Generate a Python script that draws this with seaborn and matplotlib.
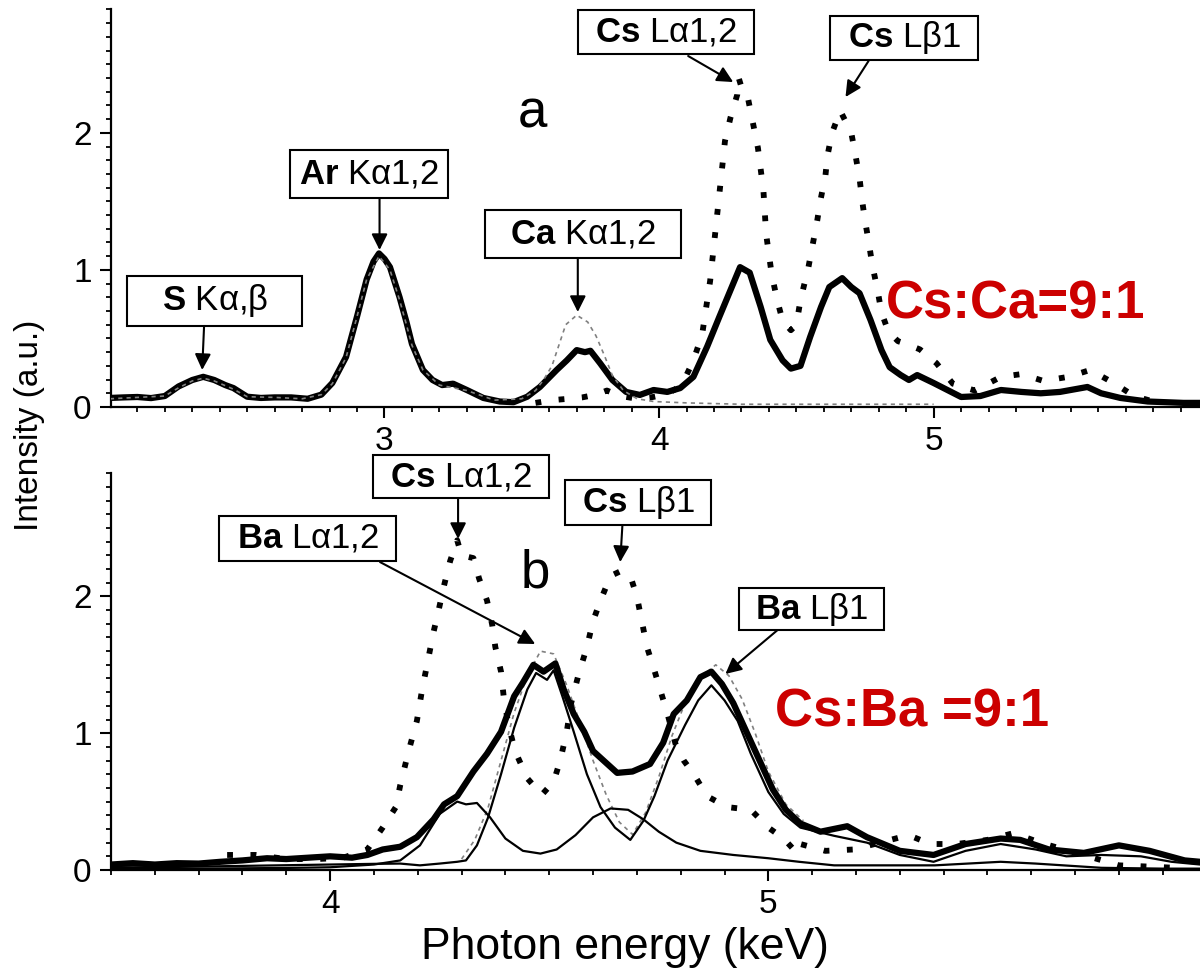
import matplotlib
matplotlib.use("Agg")
import matplotlib.pyplot as plt
import seaborn as sns
from matplotlib.ticker import MultipleLocator
from matplotlib.patches import Rectangle

# ---------------- data ----------------
# panel a : Cs:Ca = 9:1 mixture (thick solid)
top_x_mix = [2.00, 2.05, 2.10, 2.15, 2.20, 2.25, 2.30, 2.34, 2.38, 2.42, 2.45, 2.50, 2.55, 2.60,
             2.66, 2.72, 2.77, 2.81, 2.86, 2.90, 2.935, 2.96, 2.98, 3.00, 3.02, 3.055, 3.08, 3.10,
             3.14, 3.175, 3.21, 3.25, 3.30, 3.36, 3.42, 3.47, 3.52, 3.566, 3.627, 3.664, 3.70,
             3.73, 3.75, 3.785, 3.83, 3.88, 3.93, 3.98, 4.03, 4.077, 4.125, 4.175, 4.22, 4.27,
             4.295, 4.33, 4.37, 4.405, 4.45, 4.48, 4.515, 4.55, 4.59, 4.62, 4.667, 4.70, 4.73,
             4.77, 4.81, 4.84, 4.88, 4.91, 4.94, 5.00, 5.05, 5.10, 5.17, 5.245, 5.32, 5.39, 5.46,
             5.56, 5.61, 5.68, 5.78, 5.91, 5.97]
top_y_mix = [0.066, 0.07, 0.073, 0.065, 0.08, 0.15, 0.197, 0.22, 0.197, 0.16, 0.138, 0.075, 0.066, 0.07,
             0.07, 0.06, 0.09, 0.175, 0.365, 0.66, 0.93, 1.06, 1.12, 1.08, 1.02, 0.80, 0.62, 0.46,
             0.27, 0.197, 0.16, 0.17, 0.124, 0.066, 0.04, 0.035, 0.075, 0.146, 0.27, 0.34, 0.415,
             0.40, 0.41, 0.32, 0.197, 0.11, 0.088, 0.124, 0.11, 0.138, 0.22, 0.44, 0.66, 0.90,
             1.02, 0.98, 0.73, 0.49, 0.34, 0.28, 0.30, 0.51, 0.73, 0.875, 0.94, 0.875, 0.83,
             0.635, 0.415, 0.29, 0.233, 0.197, 0.233, 0.175, 0.124, 0.073, 0.08, 0.124, 0.11, 0.10, 0.11,
             0.146, 0.10, 0.066, 0.04, 0.03, 0.03]

# panel a : pure Cs (dotted)
top_x_cs = [3.55, 3.61, 3.67, 3.72, 3.77, 3.81, 3.86, 3.92, 3.97, 4.02, 4.06, 4.09, 4.125, 4.157,
            4.186, 4.204, 4.222, 4.24, 4.26, 4.285, 4.29, 4.305, 4.325, 4.343, 4.36, 4.38, 4.39,
            4.41, 4.43, 4.45, 4.48, 4.50, 4.515, 4.544, 4.56, 4.576, 4.588, 4.606, 4.613, 4.63,
            4.66, 4.70, 4.715, 4.73, 4.74, 4.75, 4.763, 4.777, 4.795, 4.81, 4.835, 4.87, 4.90,
            4.95, 5.01, 5.07, 5.15, 5.245, 5.32, 5.40, 5.49, 5.57, 5.66, 5.73, 5.80]
top_y_cs = [0.03, 0.05, 0.06, 0.07, 0.09, 0.12, 0.08, 0.06, 0.07, 0.09, 0.13, 0.19, 0.34, 0.53,
            0.92, 1.26, 1.60, 1.94, 2.11, 2.28, 2.40, 2.30, 2.24, 2.06, 1.89, 1.58, 1.26,
            0.97, 0.78, 0.63, 0.56, 0.60, 0.78, 1.02, 1.19, 1.36, 1.51, 1.69, 1.83, 2.00,
            2.16, 2.00, 1.84, 1.67, 1.50, 1.36, 1.21, 1.03, 0.86, 0.69, 0.55, 0.48, 0.46,
            0.42, 0.32, 0.17, 0.12, 0.22, 0.24, 0.19, 0.22, 0.27, 0.17, 0.08, 0.04]

# panel a : reference with Ca (thin grey dashes)
top_x_ca = [2.00, 2.10, 2.20, 2.25, 2.30, 2.34, 2.38, 2.45, 2.50, 2.60, 2.70, 2.77, 2.81, 2.86,
            2.90, 2.935, 2.98, 3.02, 3.055, 3.08, 3.10, 3.14, 3.20, 3.30, 3.40, 3.50, 3.55, 3.58,
            3.61, 3.64, 3.66, 3.70, 3.74, 3.77, 3.80, 3.83, 3.87, 3.92, 3.98, 4.10, 4.30, 4.60, 5.00]
top_y_ca = [0.06, 0.07, 0.08, 0.14, 0.19, 0.21, 0.19, 0.13, 0.075, 0.07, 0.06, 0.09, 0.17, 0.36,
            0.66, 0.93, 1.10, 1.00, 0.78, 0.60, 0.45, 0.27, 0.16, 0.12, 0.05, 0.06, 0.12, 0.20,
            0.30, 0.48, 0.60, 0.67, 0.62, 0.52, 0.38, 0.23, 0.12, 0.06, 0.04, 0.03, 0.02, 0.02, 0.02]

# panel b : Cs:Ba = 9:1 mixture (thick solid)
bot_x_mix = [3.50, 3.55, 3.60, 3.65, 3.70, 3.75, 3.80, 3.856, 3.90, 3.95, 4.00, 4.05, 4.085, 4.12,
             4.16, 4.198, 4.236, 4.26, 4.29, 4.327, 4.358, 4.39, 4.42, 4.44, 4.464, 4.487, 4.514,
             4.533, 4.556, 4.58, 4.60, 4.624, 4.655, 4.69, 4.73, 4.76, 4.784, 4.814, 4.845, 4.87,
             4.894, 4.92, 4.95, 4.98, 5.01, 5.04, 5.073, 5.119, 5.18, 5.225, 5.30, 5.377, 5.45,
             5.53, 5.575, 5.64, 5.72, 5.80, 5.87, 5.95, 5.985]
bot_y_mix = [0.04, 0.05, 0.04, 0.05, 0.047, 0.06, 0.07, 0.086, 0.08, 0.09, 0.10, 0.09, 0.11, 0.15,
             0.17, 0.24, 0.37, 0.48, 0.54, 0.72, 0.85, 1.01, 1.27, 1.37, 1.50, 1.45, 1.51,
             1.32, 1.14, 1.01, 0.87, 0.80, 0.71, 0.72, 0.775, 0.93, 1.14, 1.24, 1.41, 1.45,
             1.36, 1.22, 1.01, 0.80, 0.59, 0.44, 0.34, 0.28, 0.32, 0.24, 0.14, 0.11, 0.19,
             0.23, 0.22, 0.15, 0.125, 0.18, 0.14, 0.07, 0.06]

# panel b : pure Cs (dotted)
bot_x_cs = [3.765, 3.83, 3.90, 3.97, 4.03, 4.085, 4.12, 4.15, 4.16, 4.18, 4.198, 4.21, 4.22, 4.236,
            4.247, 4.26, 4.274, 4.29, 4.30, 4.327, 4.34, 4.358, 4.37, 4.377, 4.39, 4.396, 4.407,
            4.422, 4.45, 4.483, 4.51, 4.525, 4.54, 4.55, 4.567, 4.586, 4.60, 4.617, 4.64, 4.66,
            4.685, 4.70, 4.71, 4.723, 4.738, 4.753, 4.77, 4.79, 4.807, 4.83, 4.86, 4.906, 4.96,
            5.00, 5.035, 5.065, 5.073, 5.13, 5.195, 5.32, 5.37, 5.43, 5.50, 5.56, 5.62, 5.745,
            5.80, 5.86, 5.93]
bot_y_cs = [0.11, 0.11, 0.08, 0.08, 0.09, 0.15, 0.31, 0.46, 0.62, 0.88, 1.09, 1.32, 1.48, 1.74,
            1.89, 2.08, 2.26, 2.41, 2.30, 2.28, 2.13, 1.97, 1.79, 1.63, 1.45, 1.27, 1.06,
            0.87, 0.67, 0.55, 0.645, 0.80, 1.01, 1.22, 1.43, 1.63, 1.82, 1.97, 2.15, 2.18,
            2.15, 2.00, 1.84, 1.63, 1.48, 1.32, 1.14, 0.90, 0.80, 0.70, 0.54, 0.46, 0.44,
            0.31, 0.23, 0.125, 0.19, 0.14, 0.15, 0.255, 0.19, 0.19, 0.22, 0.27, 0.20, 0.086,
            0.034, 0.026, 0.016]

# panel b : Ba component (thin solid)
bot_x_ba = [3.50, 3.60, 3.70, 3.80, 3.90, 4.00, 4.10, 4.16, 4.205, 4.25, 4.29, 4.31, 4.335, 4.36,
            4.39, 4.42, 4.45, 4.47, 4.495, 4.51, 4.53, 4.556, 4.586, 4.617, 4.65, 4.685, 4.715,
            4.74, 4.77, 4.81, 4.84, 4.87, 4.90, 4.93, 4.96, 5.00, 5.035, 5.073, 5.15, 5.225, 5.30,
            5.377, 5.45, 5.53, 5.61, 5.68, 5.76, 5.85, 5.92, 5.985]
bot_y_ba = [0.02, 0.02, 0.025, 0.03, 0.035, 0.04, 0.045, 0.047, 0.034, 0.047, 0.06, 0.07, 0.18, 0.38,
            0.70, 1.04, 1.32, 1.44, 1.39, 1.46, 1.27, 1.01, 0.70, 0.46, 0.31, 0.22, 0.36,
            0.54, 0.80, 1.06, 1.24, 1.35, 1.24, 1.09, 0.85, 0.57, 0.41, 0.31, 0.25, 0.20, 0.11,
            0.06, 0.14, 0.19, 0.15, 0.10, 0.11, 0.10, 0.06, 0.04]

# panel b : Cs component (thin solid)
bot_x_csc = [3.50, 3.70, 3.90, 4.00, 4.10, 4.16, 4.205, 4.25, 4.29, 4.31, 4.335, 4.365, 4.40,
             4.44, 4.48, 4.517, 4.56, 4.60, 4.64, 4.68, 4.715, 4.75, 4.79, 4.845, 4.92, 5.00,
             5.07, 5.15, 5.38, 5.53, 5.61, 5.76, 5.90, 5.985]
bot_y_csc = [0.01, 0.01, 0.015, 0.02, 0.04, 0.07, 0.18, 0.41, 0.50, 0.48, 0.49, 0.385, 0.23,
             0.14, 0.12, 0.15, 0.255, 0.385, 0.45, 0.44, 0.37, 0.28, 0.20, 0.14, 0.11, 0.086,
             0.06, 0.034, 0.034, 0.06, 0.047, 0.016, 0.01, 0.01]

# panel b : Ba reference (thin grey dashes)
bot_x_baref = [4.30, 4.33, 4.36, 4.39, 4.42, 4.45, 4.48, 4.51, 4.54, 4.57, 4.60, 4.63, 4.66,
               4.69, 4.72, 4.75, 4.78, 4.81, 4.85, 4.88, 4.91, 4.94, 4.97, 5.00, 5.04, 5.08]
bot_y_baref = [0.08, 0.22, 0.45, 0.80, 1.15, 1.42, 1.60, 1.58, 1.35, 1.08, 0.80, 0.55, 0.35,
               0.26, 0.42, 0.68, 0.98, 1.22, 1.42, 1.50, 1.42, 1.25, 1.00, 0.72, 0.48, 0.36]

# ---------------- style ----------------
sns.set_theme(style="ticks")
plt.rcParams["font.family"] = ["Liberation Sans", "DejaVu Sans"]
plt.rcParams["mathtext.fontset"] = "custom"
plt.rcParams["mathtext.rm"] = "Liberation Sans"
plt.rcParams["mathtext.bf"] = "Liberation Sans:bold"
plt.rcParams["mathtext.it"] = "Liberation Sans:italic"
plt.rcParams["text.color"] = "black"
plt.rcParams["axes.labelcolor"] = "black"
plt.rcParams["xtick.color"] = "black"
plt.rcParams["ytick.color"] = "black"
plt.rcParams["axes.edgecolor"] = "black"

RED = "#CC0000"
DOT = (0, (1, 3))
GREYDASH = (0, (2.5, 2.5))

fig = plt.figure(figsize=(12, 9.76), dpi=100)
W, H = 1200.0, 976.0
ax1 = fig.add_axes([111 / W, 1 - 407 / H, 1 - 111 / W, (407 - 9.4) / H])
ax2 = fig.add_axes([111 / W, 1 - 870 / H, 1 - 111 / W, (870 - 473.3) / H])

# panel a curves
sns.lineplot(x=top_x_ca, y=top_y_ca, ax=ax1, color="#808080", lw=1.2, linestyle=GREYDASH,
             sort=False, estimator=None, zorder=3)
sns.lineplot(x=top_x_mix, y=top_y_mix, ax=ax1, color="black", lw=4.5, sort=False,
             estimator=None, solid_joinstyle="round", solid_capstyle="round", zorder=2)
sns.lineplot(x=top_x_cs, y=top_y_cs, ax=ax1, color="black", lw=4.2, linestyle=DOT,
             sort=False, estimator=None, zorder=2)

# panel b curves
sns.lineplot(x=bot_x_baref, y=bot_y_baref, ax=ax2, color="#808080", lw=1.2, linestyle=GREYDASH,
             sort=False, estimator=None, zorder=2)
sns.lineplot(x=bot_x_csc, y=bot_y_csc, ax=ax2, color="black", lw=1.6, sort=False,
             estimator=None, zorder=2)
sns.lineplot(x=bot_x_ba, y=bot_y_ba, ax=ax2, color="black", lw=1.6, sort=False,
             estimator=None, zorder=2)
sns.lineplot(x=bot_x_mix, y=bot_y_mix, ax=ax2, color="black", lw=4.5, sort=False,
             estimator=None, solid_joinstyle="round", solid_capstyle="round", zorder=3)
sns.lineplot(x=bot_x_cs, y=bot_y_cs, ax=ax2, color="black", lw=4.2, linestyle=DOT,
             sort=False, estimator=None, zorder=3)

ax1.set_xlim(2.004, 5.97)
ax2.set_xlim(3.5, 5.985)
for ax in (ax1, ax2):
    ax.set_ylim(0, 2.9)
    ax.set_xlabel("")
    ax.set_ylabel("")
    ax.spines["top"].set_visible(False)
    ax.spines["right"].set_visible(False)
    ax.spines["left"].set_linewidth(1.6)
    ax.spines["bottom"].set_linewidth(1.6)
    ax.xaxis.set_major_locator(MultipleLocator(1))
    ax.xaxis.set_minor_locator(MultipleLocator(0.1))
    ax.yaxis.set_major_locator(MultipleLocator(1))
    ax.yaxis.set_minor_locator(MultipleLocator(0.1))
    ax.tick_params(which="major", direction="out", length=8, width=1.5, labelsize=24,
                   pad=6, colors="black")
    ax.tick_params(which="minor", direction="out", length=3.6, width=1.3)
    ax.set_facecolor("white")


def label_box(ax, text, x0, x1, y0, y1, start, tip, fs=25):
    ax.add_patch(Rectangle((x0, y0), x1 - x0, y1 - y0, transform=ax.transData,
                           facecolor="white", edgecolor="black", lw=1.5, clip_on=False, zorder=6))
    ax.text((x0 + x1) / 2, (y0 + y1) / 2, text, ha="center", va="center", fontsize=fs,
            zorder=7, clip_on=False)
    ax.annotate("", xy=tip, xytext=start, xycoords="data", textcoords="data",
                arrowprops=dict(arrowstyle="-|>", color="black", lw=1.5, mutation_scale=24,
                                shrinkA=0, shrinkB=0), zorder=7, annotation_clip=False)


# panel a labels
label_box(ax1, r"$\mathbf{S}$ Kα,β", 2.062, 2.701, 0.591, 0.956, (2.343, 0.591), (2.336, 0.27))
label_box(ax1, r"$\mathbf{Ar}$ Kα1,2", 2.657, 3.230, 1.524, 1.875, (2.982, 1.524), (2.982, 1.145))
label_box(ax1, r"$\mathbf{Ca}$ Kα1,2", 3.365, 4.080, 1.087, 1.437, (3.704, 1.087), (3.704, 0.693))
label_box(ax1, r"$\mathbf{Cs}$ Lα1,2", 3.704, 4.347, 2.575, 2.896, (4.106, 2.56), (4.27, 2.37))
label_box(ax1, r"$\mathbf{Cs}$ Lβ1", 4.624, 5.161, 2.531, 2.852, (4.763, 2.524), (4.679, 2.261))
ax1.text(3.54, 2.144, "a", fontsize=38, ha="center", va="center")
ax1.text(4.825, 0.744, "Cs:Ca=9:1", fontsize=38, fontweight="bold", color=RED,
         ha="left", va="center")

# panel b labels
label_box(ax2, r"$\mathbf{Cs}$ Lα1,2", 4.098, 4.500, 2.719, 3.034, (4.292, 2.719), (4.292, 2.42))
label_box(ax2, r"$\mathbf{Cs}$ Lβ1", 4.537, 4.870, 2.522, 2.851, (4.667, 2.522), (4.662, 2.251))
label_box(ax2, r"$\mathbf{Ba}$ Lα1,2", 3.747, 4.151, 2.259, 2.588, (4.114, 2.251), (4.468, 1.652))
label_box(ax2, r"$\mathbf{Ba}$ Lβ1", 4.932, 5.265, 1.754, 2.061, (5.021, 1.754), (4.902, 1.433))
ax2.text(4.468, 2.171, "b", fontsize=38, ha="center", va="center")
ax2.text(5.016, 1.155, "Cs:Ba =9:1", fontsize=38, fontweight="bold", color=RED,
         ha="left", va="center")

fig.text(30 / W, 1 - 425 / H, "Intensity (a.u.)", rotation=90, ha="center", va="center",
         fontsize=24)
fig.text(625 / W, 1 - 948 / H, "Photon energy (keV)", ha="center", va="center", fontsize=32)

fig.savefig("out.png", dpi=100, facecolor="white")
